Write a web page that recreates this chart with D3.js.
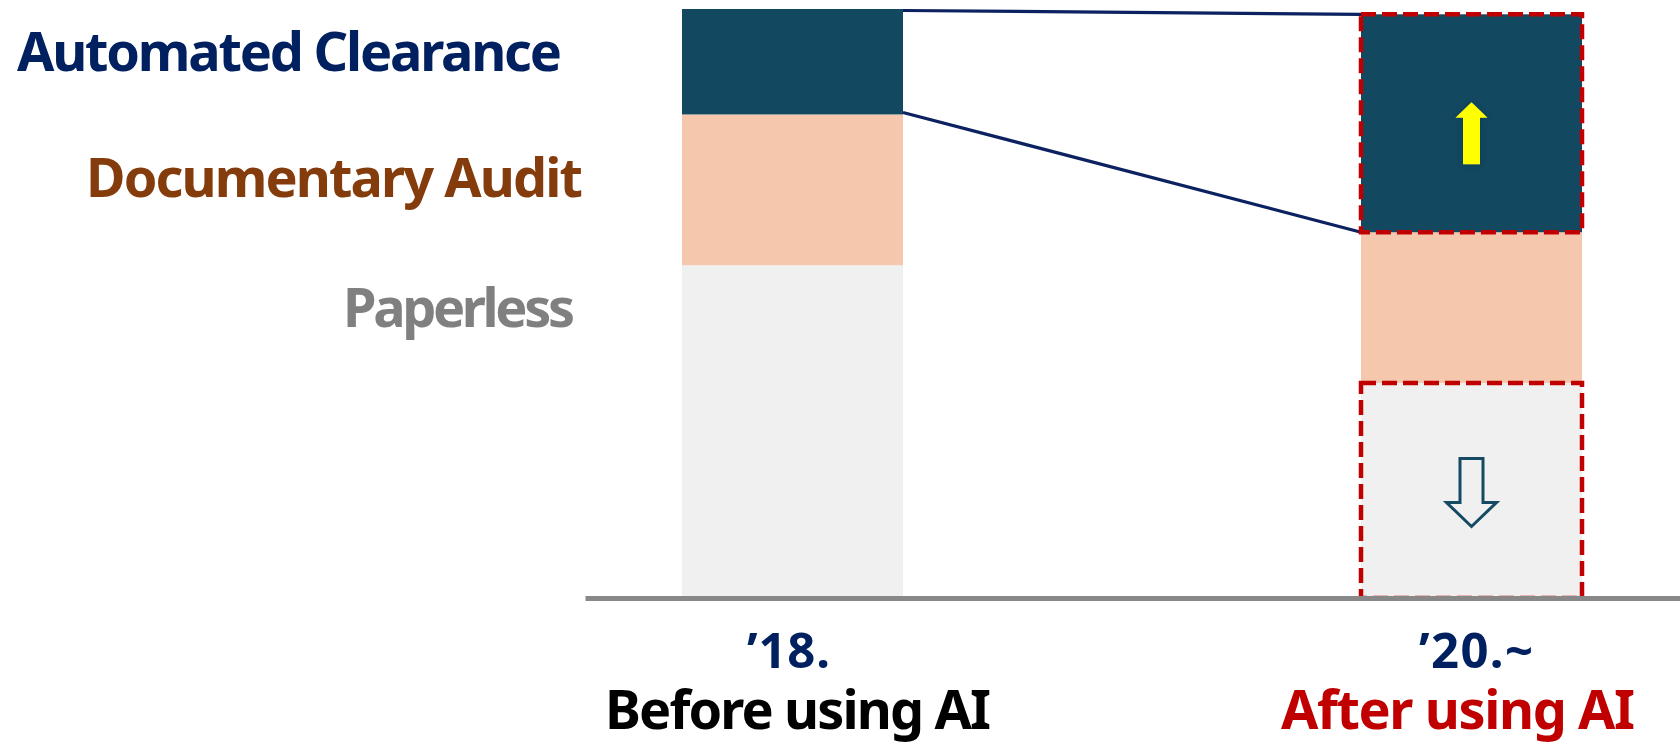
<!DOCTYPE html>
<html>
<head>
<meta charset="utf-8">
<script src="https://cdn.jsdelivr.net/npm/d3@7"></script>
<style>
  html, body { margin: 0; padding: 0; background: #ffffff; }
  svg { display: block; }
  text { font-family: "Noto Sans", "Open Sans", sans-serif; font-weight: 700; }
</style>
</head>
<body>
<svg id="chart" width="1680" height="744"></svg>
<script>
// ---- data ----
const categories = ["\u201918.", "\u201920.~"];
const captions = ["Before using AI", "After using AI"];
const seriesNames = ["Paperless", "Documentary Audit", "Automated Clearance"];
const paperless = [56.5, 36.5];
const documentaryAudit = [25.6, 25.6];
const automatedClearance = [17.9, 37.0];

// ---- styles ----
const segColors = { "Paperless": "#f0f0f0", "Documentary Audit": "#f5c8ae", "Automated Clearance": "#124860" };
const labelColors = { "Paperless": "#808080", "Documentary Audit": "#843c0c", "Automated Clearance": "#002060" };

const svg = d3.select("#chart");
const W = 1680, H = 744;
const baseY = 598, topY = 9;
const barW = 221;

const rows = categories.map((c, i) => ({
  cat: c,
  "Paperless": paperless[i],
  "Documentary Audit": documentaryAudit[i],
  "Automated Clearance": automatedClearance[i]
}));
const stacked = d3.stack().keys(seriesNames)(rows);

const x = d3.scalePoint().domain(categories).range([792.5, 1471.5]);
const y = d3.scaleLinear().domain([0, 100]).range([baseY, topY]);

// bars
const layers = svg.append("g").selectAll("g").data(stacked).join("g")
  .attr("fill", d => segColors[d.key]);
layers.selectAll("rect").data(d => d).join("rect")
  .attr("x", d => x(d.data.cat) - barW / 2)
  .attr("y", d => y(d[1]))
  .attr("width", barW)
  .attr("height", d => y(d[0]) - y(d[1]));

// connector lines from 2018 automated segment to 2020 automated segment
const auto = stacked[2];
const lx = x(categories[0]) + barW / 2;
const rx = x(categories[1]) - barW / 2;
const conn = svg.append("g").attr("stroke", "#0b2160").attr("stroke-width", 3.2);
conn.append("line")
  .attr("x1", lx).attr("y1", y(auto[0][1]) + 1.5)
  .attr("x2", rx).attr("y2", y(auto[1][1]));
conn.append("line")
  .attr("x1", lx).attr("y1", y(auto[0][0]) - 2)
  .attr("x2", rx).attr("y2", y(auto[1][0]));

// dashed red highlight boxes on 2020 bar
const hl = svg.append("g").attr("fill", "none").attr("stroke", "#c00000")
  .attr("stroke-width", 4.5).attr("stroke-dasharray", "15,6");
[stacked[2][1], stacked[0][1]].forEach(d => {
  hl.append("rect")
    .attr("x", x(d.data.cat) - barW / 2)
    .attr("y", y(d[1]))
    .attr("width", barW)
    .attr("height", y(d[0]) - y(d[1]));
});

// glow filter for yellow arrow
const defs = svg.append("defs");
const f = defs.append("filter").attr("id", "glow").attr("x", "-50%").attr("y", "-50%").attr("width", "200%").attr("height", "200%");
f.append("feDropShadow").attr("dx", 0).attr("dy", 0).attr("stdDeviation", 3).attr("flood-color", "#0a3448").attr("flood-opacity", 0.7);

// up arrow (yellow) in automated segment
{
  const d = stacked[2][1];
  const cx = x(d.data.cat);
  const cy = (y(d[0]) + y(d[1])) / 2 + 10;
  const tip = cy - 31, headBase = cy - 15.5, bottom = cy + 31;
  const hw = 16, sw = 8.5;
  const p = d3.path();
  p.moveTo(cx, tip); p.lineTo(cx + hw, headBase); p.lineTo(cx + sw, headBase);
  p.lineTo(cx + sw, bottom); p.lineTo(cx - sw, bottom); p.lineTo(cx - sw, headBase);
  p.lineTo(cx - hw, headBase); p.closePath();
  svg.append("path").attr("d", p.toString()).attr("fill", "#ffff00").attr("filter", "url(#glow)");
}

// down arrow (outline) in paperless segment
{
  const d = stacked[0][1];
  const cx = x(d.data.cat);
  const cy = (y(d[0]) + y(d[1])) / 2 + 1;
  const top = cy - 33, headBase = cy + 11, tip = cy + 35;
  const hw = 25, sw = 11.5;
  const p = d3.path();
  p.moveTo(cx - sw, top); p.lineTo(cx + sw, top); p.lineTo(cx + sw, headBase);
  p.lineTo(cx + hw, headBase); p.lineTo(cx, tip); p.lineTo(cx - hw, headBase);
  p.lineTo(cx - sw, headBase); p.closePath();
  svg.append("path").attr("d", p.toString()).attr("fill", "none")
    .attr("stroke", "#154a62").attr("stroke-width", 3).attr("stroke-linejoin", "miter");
}

// baseline axis
const xAxisLine = d3.axisBottom(d3.scaleLinear().domain([0, 1]).range([585, W])).ticks(0).tickSize(0).tickFormat("");
const ax = svg.append("g").attr("transform", `translate(0,${baseY})`).call(xAxisLine);
ax.select(".domain").attr("stroke", "#888888").attr("stroke-width", 5);

// series labels on left
const labelSpec = [
  { name: "Automated Clearance", x: 17, y: 71, w: 545 },
  { name: "Documentary Audit", x: 86, y: 197, w: 497 },
  { name: "Paperless", x: 343, y: 327, w: 232 }
];
svg.append("g").selectAll("text").data(labelSpec).join("text")
  .attr("x", d => d.x).attr("y", d => d.y)
  .attr("font-size", 54)
  .attr("fill", d => labelColors[d.name])
  .attr("textLength", d => d.w).attr("lengthAdjust", "spacing")
  .text(d => d.name);

// category labels
const catG = svg.append("g");
catG.selectAll("text.cat").data(categories).join("text").attr("class", "cat")
  .attr("x", (d, i) => x(d) + (i === 0 ? -4 : 4.5))
  .attr("y", 668)
  .attr("text-anchor", "middle")
  .attr("font-size", 49)
  .attr("fill", "#002060")
  .attr("textLength", (d, i) => i === 0 ? 83 : 114).attr("lengthAdjust", "spacing")
  .text(d => d);
catG.selectAll("text.cap").data(captions).join("text").attr("class", "cap")
  .attr("x", (d, i) => x(categories[i]) + (i === 0 ? 5.5 : -13.5))
  .attr("y", 729)
  .attr("text-anchor", "middle")
  .attr("font-size", 54)
  .attr("fill", (d, i) => i === 0 ? "#000000" : "#c00000")
  .attr("textLength", (d, i) => i === 0 ? 386 : 354).attr("lengthAdjust", "spacing")
  .text(d => d);
</script>
</body>
</html>
